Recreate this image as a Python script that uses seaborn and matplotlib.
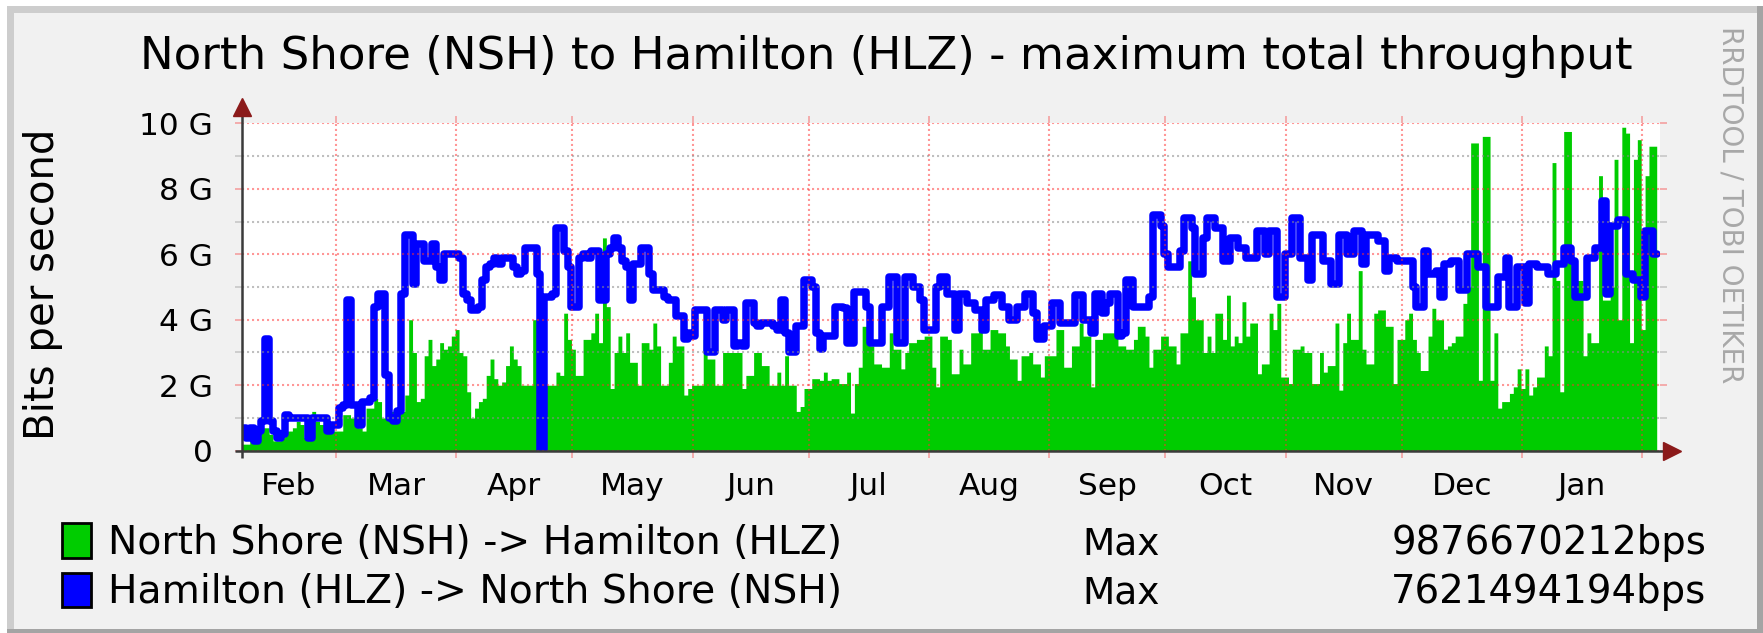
import matplotlib
matplotlib.use("Agg")
import matplotlib.pyplot as plt
from matplotlib.patches import Rectangle
import seaborn as sns
import pandas as pd

# daily maximum throughput in Gbit/s (Feb -> Feb)
nsh_to_hlz = [
    0.2, 0.2, 0.3, 0.4, 0.5, 0.7, 0.7, 0.5, 0.3, 0.3,
    0.4, 0.6, 0.6, 0.7, 0.9, 0.8, 0.4, 0.4, 1.2, 0.9,
    0.8, 0.8, 0.7, 0.6, 0.6, 0.6, 1.1, 1.1, 1.0, 1.1,
    0.7, 0.6, 1.3, 1.3, 1.6, 1.5, 1.0, 1.0, 1.2, 1.2,
    1.3, 1.2, 1.7, 4.0, 3.0, 1.5, 1.6, 2.9, 3.4, 2.6,
    2.8, 3.3, 3.1, 3.2, 3.5, 3.7, 3.0, 2.9, 1.8, 1.0,
    1.3, 1.5, 1.6, 2.3, 2.8, 2.2, 2.0, 2.1, 2.6, 3.2,
    2.8, 2.6, 2.0, 2.0, 2.0, 4.0, 3.7, 2.0, 2.0, 2.0,
    2.0, 2.4, 2.3, 4.2, 3.4, 3.1, 2.3, 2.3, 3.4, 3.4,
    3.6, 4.2, 3.3, 6.5, 4.4, 1.9, 3.0, 3.5, 3.0, 3.6,
    2.7, 2.7, 2.0, 3.3, 3.3, 3.1, 3.9, 3.2, 2.0, 2.0,
    2.7, 3.5, 3.2, 3.2, 1.7, 1.9, 2.0, 2.0, 2.0, 3.4,
    2.8, 2.8, 2.0, 2.0, 3.0, 3.0, 3.0, 3.0, 3.0, 1.9,
    2.3, 2.3, 3.0, 3.0, 2.6, 2.6, 2.0, 2.0, 2.4, 2.0,
    2.9, 2.0, 2.0, 1.2, 1.35, 1.9, 1.9, 2.2, 2.2, 2.15,
    2.4, 2.15, 2.2, 2.2, 2.05, 2.05, 2.4, 1.15, 2.05, 2.55,
    3.8, 3.8, 3.2, 2.65, 2.65, 2.55, 2.55, 3.6, 3.1, 3.1,
    2.5, 3.0, 3.3, 3.3, 3.4, 3.4, 3.5, 3.5, 2.55, 1.95,
    3.5, 3.5, 3.4, 2.35, 2.35, 3.1, 2.65, 2.65, 3.6, 3.6,
    3.7, 3.1, 3.1, 3.7, 3.7, 3.6, 3.6, 3.2, 2.8, 2.8,
    2.15, 2.9, 2.9, 3.0, 2.65, 2.65, 2.25, 2.9, 2.9, 2.9,
    3.7, 3.7, 2.55, 2.55, 3.2, 3.2, 3.9, 3.5, 3.5, 1.95,
    3.4, 3.4, 3.6, 3.6, 3.6, 3.7, 3.2, 3.2, 3.1, 3.1,
    3.4, 3.8, 3.8, 3.5, 2.55, 3.1, 3.1, 3.5, 3.5, 3.2,
    3.2, 2.65, 3.6, 3.6, 5.8, 4.7, 4.0, 4.0, 3.0, 3.5,
    3.0, 4.2, 4.2, 3.4, 4.75, 3.2, 3.5, 3.3, 4.55, 3.5,
    3.9, 3.9, 2.35, 2.65, 2.65, 4.2, 3.7, 4.5, 2.25, 2.25,
    2.05, 3.1, 3.1, 3.2, 3.0, 3.0, 2.05, 2.05, 3.0, 2.4,
    2.6, 2.6, 3.9, 1.85, 3.3, 4.2, 3.4, 3.4, 5.5, 3.1,
    2.65, 2.65, 4.2, 4.3, 4.3, 3.8, 3.8, 2.05, 3.4, 3.4,
    4.0, 4.2, 3.4, 3.0, 2.45, 2.45, 3.5, 4.35, 4.0, 4.0,
    3.1, 3.2, 3.3, 3.5, 3.5, 4.5, 5.0, 9.4, 9.4, 2.15,
    9.6, 9.6, 2.15, 3.6, 1.3, 1.5, 1.5, 1.75, 1.95, 2.5,
    1.9, 2.5, 1.7, 1.95, 2.25, 2.25, 3.2, 2.9, 8.8, 5.2,
    1.8, 9.75, 9.75, 5.2, 5.2, 5.2, 2.9, 3.6, 3.3, 3.3,
    8.4, 4.6, 4.6, 5.0, 8.9, 4.0, 9.88, 9.7, 3.3, 8.9,
    9.5, 3.7, 8.4, 9.3, 9.3,
]

hlz_to_nsh = [
    0.7, 0.4, 0.7, 0.3, 0.6, 0.9, 3.4, 0.9, 0.6, 0.4,
    0.5, 1.1, 1.0, 1.0, 1.0, 1.0, 1.0, 0.4, 1.0, 1.0,
    1.0, 1.0, 0.6, 0.8, 0.8, 1.3, 1.4, 4.6, 1.4, 1.4,
    0.8, 1.5, 1.5, 1.6, 4.4, 4.8, 4.8, 2.3, 1.0, 0.9,
    1.2, 4.8, 6.6, 6.6, 5.1, 6.3, 6.3, 5.8, 5.8, 6.3,
    5.6, 5.2, 6.0, 6.0, 6.0, 6.0, 5.9, 4.8, 4.6, 4.3,
    4.3, 4.4, 5.2, 5.6, 5.7, 5.9, 5.7, 5.9, 5.9, 5.9,
    5.6, 5.4, 5.5, 6.2, 6.2, 6.2, 5.4, 0.0, 4.7, 4.7,
    4.8, 6.8, 6.8, 6.1, 5.6, 4.4, 4.4, 5.9, 6.0, 5.9,
    6.1, 6.1, 4.6, 4.6, 6.0, 6.2, 6.5, 6.2, 5.8, 5.6,
    4.6, 5.7, 5.7, 6.2, 6.2, 5.4, 4.9, 4.9, 4.9, 4.7,
    4.6, 4.6, 4.1, 4.1, 3.4, 3.6, 3.5, 4.3, 4.3, 4.3,
    3.0, 3.0, 4.3, 4.3, 4.0, 4.3, 4.3, 3.2, 3.3, 3.2,
    4.5, 4.5, 3.9, 3.8, 3.9, 3.9, 3.9, 3.8, 3.7, 4.6,
    3.6, 3.0, 3.0, 3.8, 3.8, 5.2, 5.2, 5.0, 3.6, 3.1,
    3.5, 3.5, 3.5, 4.4, 4.4, 4.35, 3.3, 3.3, 4.85, 4.85,
    4.85, 4.4, 3.3, 3.3, 3.3, 4.4, 4.4, 5.3, 5.3, 3.3,
    3.3, 5.3, 5.3, 5.0, 5.0, 4.6, 3.7, 3.7, 3.7, 5.0,
    5.3, 5.3, 4.8, 4.8, 3.7, 4.8, 4.8, 4.5, 4.5, 4.3,
    4.3, 3.7, 4.6, 4.6, 4.75, 4.75, 4.4, 4.4, 4.0, 4.0,
    4.4, 4.4, 4.8, 4.8, 4.2, 3.4, 3.4, 3.8, 3.8, 4.5,
    4.5, 3.9, 3.9, 3.9, 3.9, 4.75, 4.75, 4.0, 4.0, 3.6,
    4.8, 4.8, 4.2, 4.5, 4.8, 4.8, 3.5, 3.6, 5.2, 5.2,
    4.4, 4.4, 4.4, 4.4, 4.7, 7.2, 7.2, 6.85, 6.0, 5.6,
    5.6, 5.6, 6.1, 7.1, 7.1, 6.8, 5.4, 5.4, 6.5, 7.1,
    7.1, 6.8, 6.8, 5.8, 5.8, 6.5, 6.5, 6.2, 6.2, 5.9,
    5.9, 5.9, 6.7, 6.7, 6.0, 6.7, 6.7, 4.7, 4.7, 6.0,
    6.0, 7.1, 7.1, 5.9, 5.9, 5.2, 6.6, 6.6, 6.6, 5.8,
    5.8, 5.1, 5.1, 6.6, 6.6, 6.0, 6.0, 6.7, 6.7, 5.7,
    6.6, 6.6, 6.6, 6.4, 6.4, 5.5, 5.9, 5.9, 5.8, 5.8,
    5.8, 5.8, 5.0, 4.4, 4.4, 6.1, 5.4, 5.4, 5.5, 4.7,
    5.7, 5.7, 5.8, 5.8, 4.9, 4.9, 6.0, 6.0, 6.0, 5.6,
    5.6, 4.4, 4.4, 4.4, 5.3, 5.3, 5.9, 4.4, 4.4, 5.6,
    5.6, 4.5, 5.7, 5.7, 5.6, 5.6, 5.6, 5.4, 5.4, 5.7,
    5.7, 6.2, 6.2, 5.8, 4.7, 4.7, 4.7, 5.9, 5.9, 6.2,
    6.2, 7.62, 4.8, 6.85, 6.85, 7.05, 7.05, 5.4, 5.4, 5.2,
    5.2, 4.7, 6.7, 6.7, 6.0,
]

month_names = ["Feb", "Mar", "Apr", "May", "Jun", "Jul",
               "Aug", "Sep", "Oct", "Nov", "Dec", "Jan"]
ytick_vals = [0, 2, 4, 6, 8, 10]
ytick_text = ["0", "2 G", "4 G", "6 G", "8 G", "10 G"]
legend_names = ["North Shore (NSH) -> Hamilton (HLZ)",
                "Hamilton (HLZ) -> North Shore (NSH)"]
legend_max = ["9876670212bps", "7621494194bps"]
title = "North Shore (NSH) to Hamilton (HLZ) - maximum total throughput"

W, H = 1763, 633
GREEN = "#00cc00"
BLUE = "#0000ff"
BACK = "#f1f1f1"

sns.set_theme(style="white")
plt.rcParams["font.family"] = ["DejaVu Sans"]

start = pd.Timestamp("2013-02-04 18:00")
n = len(nsh_to_hlz)
edges = pd.date_range(start, periods=n + 1, freq="D")
df = pd.DataFrame({
    "date": edges,
    "green": nsh_to_hlz + [nsh_to_hlz[-1]],
    "blue": hlz_to_nsh + [hlz_to_nsh[-1]],
})
xmin = pd.Timestamp("2013-03-01") - pd.Timedelta(days=24.25)
xmax = pd.Timestamp("2014-02-01") + pd.Timedelta(days=4.6)


def fx(px):
    return px / W


def fy(py):
    return 1 - py / H


fig = plt.figure(figsize=(W / 100, H / 100), dpi=100, facecolor="white")


# RRDtool style frame
def frame(x0, y0, x1, y1, color):
    fig.patches.append(Rectangle((fx(x0), fy(y1)), fx(x1 - x0), (y1 - y0) / H,
                                 transform=fig.transFigure, color=color,
                                 lw=0, zorder=-10))


frame(7, 6, W, H, "#cdcdcd")
frame(1757, 6, W, H, "#a4a4a4")
frame(7, 629, W, H, "#a4a4a4")
frame(14, 13, 1757, 629, BACK)

ax = fig.add_axes([fx(242), fy(450.7), fx(1660 - 242), (450.7 - 123.3) / H])
ax.set_facecolor("white")

ax.fill_between(df["date"], df["green"], step="post", color=GREEN,
                linewidth=0, zorder=1)
sns.lineplot(data=df, x="date", y="blue", ax=ax, drawstyle="steps-post",
             color=BLUE, linewidth=5.4, estimator=None, sort=False,
             zorder=2, legend=False)

ax.set_xlim(xmin, xmax)
ax.set_ylim(0, 10)
ax.set_xlabel("")
ax.set_ylabel("")
for s in ax.spines.values():
    s.set_visible(False)

# grid: red major, grey minor, drawn over the data like rrdtool does
month_starts = pd.date_range("2013-03-01", "2014-02-01", freq="MS")
ax.set_xticks(month_starts)
ax.set_xticklabels([])
mids = []
for i, name in enumerate(month_names):
    m0 = pd.Timestamp("2013-02-01") + pd.DateOffset(months=i)
    m1 = m0 + pd.DateOffset(months=1)
    a, b = max(m0, xmin), min(m1, xmax)
    mids.append(a + (b - a) / 2)
ax.set_xticks(mids, minor=True)
ax.set_xticklabels(month_names, minor=True, fontsize=22.5)
ax.set_yticks(ytick_vals)
ax.set_yticklabels(ytick_text, fontsize=22.5)
ax.set_yticks([1, 3, 5, 7, 9], minor=True)

ax.set_axisbelow(False)
dots = (0, (1, 1.4))
ax.grid(True, which="major", axis="both", color="#ff3030", alpha=0.5,
        linestyle=dots, linewidth=1.5)
ax.grid(True, which="minor", axis="y", color="#8c8c8c", alpha=0.55,
        linestyle=dots, linewidth=1.5)
ax.tick_params(axis="x", which="major", direction="out", length=5,
               width=1.2, color="#f4a0a0", top=True, bottom=True)
ax.tick_params(axis="x", which="minor", length=0, pad=15, colors="black")
ax.tick_params(axis="y", which="major", direction="out", length=5, width=1.2,
               color="#f4a0a0", pad=16, labelcolor="black", left=True,
               right=True)
ax.tick_params(axis="y", which="minor", direction="out", length=5, width=1.2,
               color="#c8c8c8", left=True, right=True)

# axes with arrow heads
axis_col = "#3a3a3a"
arrow_col = "#8b1a1a"
ax.plot([-7 / 1418, 1.003], [0, 0], transform=ax.transAxes, clip_on=False,
        color=axis_col, lw=1.8, zorder=5, solid_capstyle="butt")
ax.plot([0, 0], [-7 / 327.4, 1.035], transform=ax.transAxes, clip_on=False,
        color=axis_col, lw=1.8, zorder=5, solid_capstyle="butt")
ax.plot([1.0085], [0], transform=ax.transAxes, clip_on=False, marker=">",
        markersize=13, color=arrow_col, zorder=6)
ax.plot([0], [1.0513], transform=ax.transAxes, clip_on=False, marker="^",
        markersize=13, color=arrow_col, zorder=6)

# texts
fig.text(fx(886), fy(68.5), title, ha="center", va="baseline",
         fontsize=32.5, color="black")
fig.text(fx(43.5), fy(284), "Bits per second", rotation=90, ha="center",
         va="center", fontsize=29, color="black")
fig.text(fx(1731), fy(205), "RRDTOOL / TOBI OETIKER", rotation=270,
         ha="center", va="center", fontsize=20, color="#a8a8a8")

# legend
rows = [(523, 558, 554.3), (573, 607, 603.3)]
for (y0, y1, base), col, name, mx in zip(rows, [GREEN, BLUE], legend_names,
                                          legend_max):
    fig.patches.append(Rectangle((fx(62), fy(y1)), fx(29), (y1 - y0) / H,
                                 transform=fig.transFigure, facecolor=col,
                                 edgecolor="black", lw=2, zorder=5))
    fig.text(fx(108), fy(base), name, ha="left", va="baseline",
             fontsize=28.3, color="black")
    fig.text(fx(1082), fy(base), "Max", ha="left", va="baseline",
             fontsize=27, color="black")
    fig.text(fx(1706), fy(base), mx, ha="right", va="baseline",
             fontsize=27.8, color="black")

fig.savefig("out.png", dpi=100, facecolor=fig.get_facecolor())
